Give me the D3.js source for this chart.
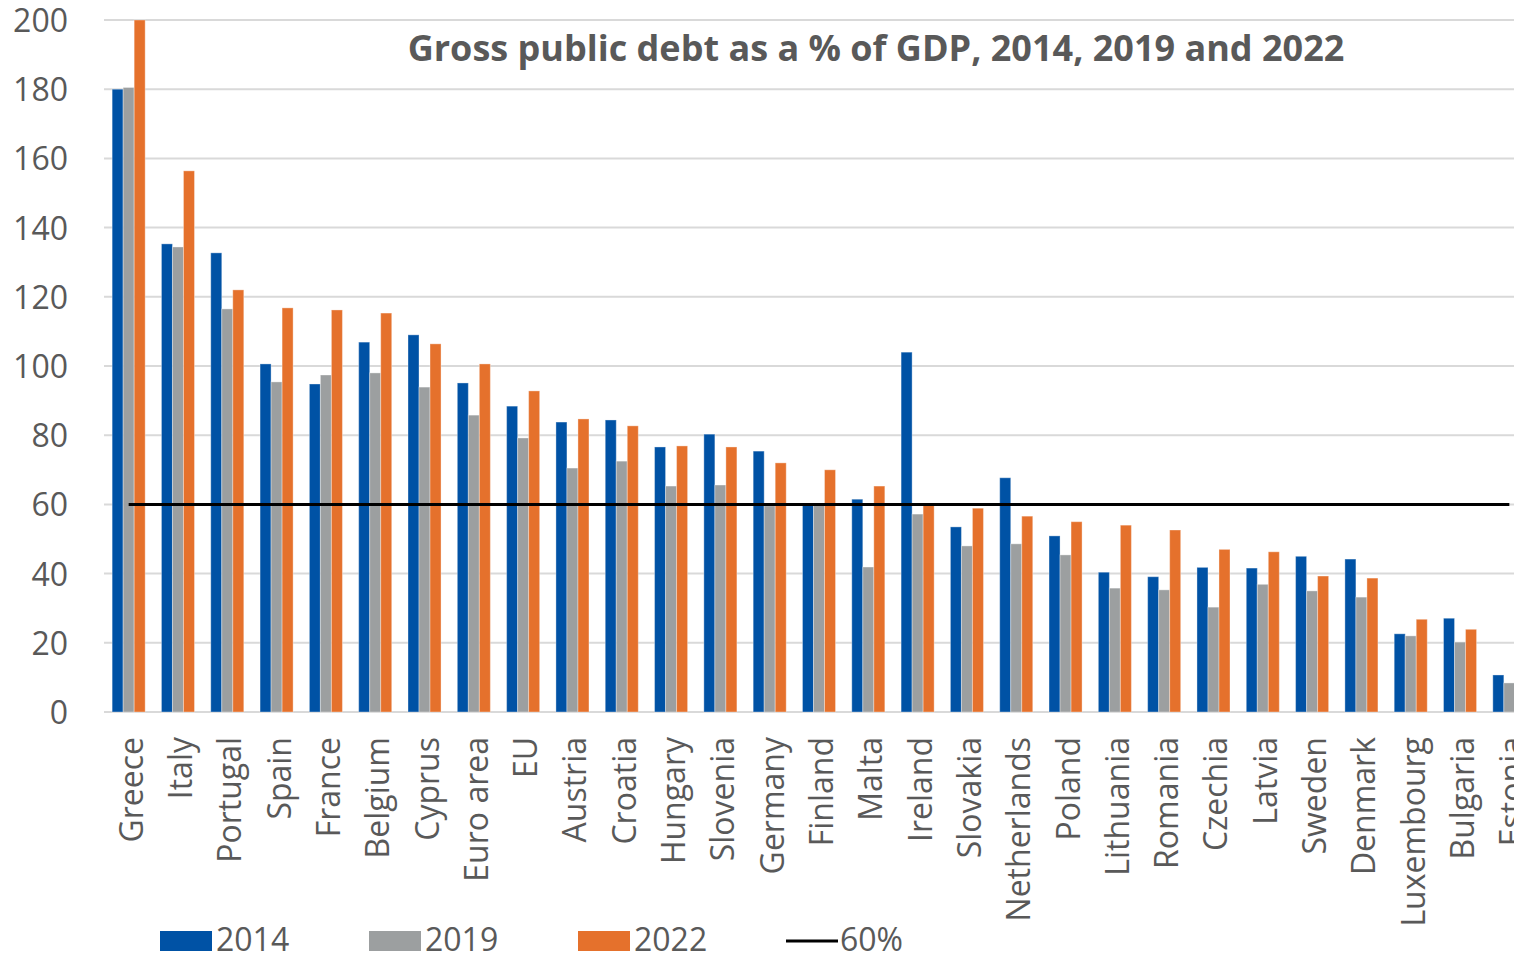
<!DOCTYPE html>
<html>
<head>
<meta charset="utf-8">
<script src="https://cdn.jsdelivr.net/npm/d3@7"></script>
<style>
  html, body { margin: 0; padding: 0; background: #fff; overflow: hidden; }
  svg { display: block; }
  text { font-family: "Open Sans", sans-serif; fill: #595959; }
</style>
</head>
<body>
<svg id="chart" width="1514" height="955"></svg>
<script>
const categories = ["Greece","Italy","Portugal","Spain","France","Belgium","Cyprus","Euro area","EU","Austria","Croatia","Hungary","Slovenia","Germany","Finland","Malta","Ireland","Slovakia","Netherlands","Poland","Lithuania","Romania","Czechia","Latvia","Sweden","Denmark","Luxembourg","Bulgaria","Estonia"];
const seriesNames = ["2014","2019","2022"];
const values2014 = [180, 135.3, 132.7, 100.6, 94.8, 106.9, 109.0, 95.1, 88.4, 83.8, 84.4, 76.6, 80.3, 75.4, 60.4, 61.5, 104.0, 53.5, 67.7, 50.9, 40.4, 39.1, 41.8, 41.6, 45.0, 44.2, 22.6, 27.1, 10.7];
const values2019 = [180.5, 134.4, 116.5, 95.4, 97.4, 98.0, 93.9, 85.8, 79.2, 70.5, 72.5, 65.3, 65.6, 59.6, 59.8, 41.9, 57.2, 48.0, 48.6, 45.4, 35.8, 35.3, 30.3, 36.9, 35.0, 33.2, 22.0, 20.2, 8.4];
const values2022 = [200, 156.4, 122.0, 116.8, 116.2, 115.3, 106.4, 100.6, 92.8, 84.7, 82.7, 76.9, 76.6, 72.0, 70.0, 65.3, 60.2, 58.9, 56.6, 55.0, 54.0, 52.6, 47.0, 46.3, 39.3, 38.7, 26.8, 23.9, 23.7];
const refValue = 60;
const refLabel = "60%";
const yTicks = [0,20,40,60,80,100,120,140,160,180,200];
const title = "Gross public debt as a % of GDP, 2014, 2019 and 2022";
const colors = ["#0052A5", "#9C9FA0", "#E5712C"];

const seriesData = [values2014, values2019, values2022];
const svg = d3.select("#chart");

const y = d3.scaleLinear().domain([0, 200]).range([712, 20]);
const x0 = d3.scaleBand().domain(categories).range([104, 1534]).paddingInner(0.33).paddingOuter(0.165);
const x1 = d3.scaleBand().domain(seriesNames).range([0, x0.bandwidth()]);

// gridlines
svg.append("g").selectAll("line").data(yTicks).join("line")
  .attr("x1", 104).attr("x2", 1514)
  .attr("y1", d => y(d)).attr("y2", d => y(d))
  .attr("stroke", "#D9D9D9").attr("stroke-width", 2);

// y tick labels
svg.append("g").selectAll("text").data(yTicks).join("text")
  .attr("x", 68).attr("y", d => y(d) + 12)
  .attr("text-anchor", "end")
  .style("font-size", "32px")
  .text(d => d);

// bars
const groups = svg.append("g").selectAll("g").data(categories).join("g")
  .attr("transform", d => `translate(${x0(d)},0)`);
groups.selectAll("rect")
  .data((c, i) => seriesNames.map((s, j) => ({ s, v: seriesData[j][i], j })))
  .join("rect")
  .attr("x", d => x1(d.s))
  .attr("width", x1.bandwidth())
  .attr("y", d => y(d.v))
  .attr("height", d => y(0) - y(d.v))
  .attr("fill", d => colors[d.j])
  .attr("stroke", "#ffffff").attr("stroke-opacity", 0.35).attr("stroke-width", 1);

// reference line
svg.append("line")
  .attr("x1", x0(categories[0]) + x0.bandwidth() / 2)
  .attr("x2", x0(categories[categories.length - 1]) + x0.bandwidth() / 2)
  .attr("y1", y(refValue)).attr("y2", y(refValue))
  .attr("stroke", "#000").attr("stroke-width", 3);

// x labels
svg.append("g").selectAll("text").data(categories).join("text")
  .attr("transform", d => `translate(${x0(d) + x0.bandwidth() / 2 + 14},737) rotate(-90)`)
  .attr("text-anchor", "end")
  .style("font-size", "32px")
  .text(d => d);

// title
svg.append("text")
  .attr("x", 876).attr("y", 61)
  .attr("text-anchor", "middle")
  .style("font-size", "36px").style("font-weight", "bold")
  .text(title);

// legend
const legendX = [160, 369, 578];
seriesNames.forEach((s, i) => {
  svg.append("rect").attr("x", legendX[i]).attr("y", 931).attr("width", 52).attr("height", 20).attr("fill", colors[i]);
  svg.append("text").attr("x", legendX[i] + 56).attr("y", 951).style("font-size", "32px").text(s);
});
svg.append("line").attr("x1", 786).attr("x2", 838).attr("y1", 941).attr("y2", 941).attr("stroke", "#000").attr("stroke-width", 3);
svg.append("text").attr("x", 840).attr("y", 951).style("font-size", "32px").text(refLabel);
</script>
</body>
</html>
